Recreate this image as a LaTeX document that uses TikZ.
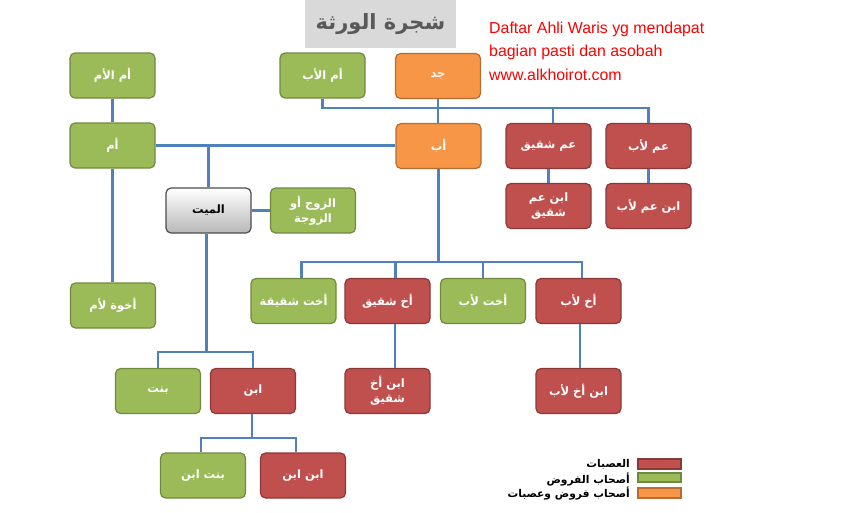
\documentclass[tikz,border=0pt]{standalone}
\usepackage{fontspec}
\setmainfont{Liberation Sans}
\newfontfamily\arabicfont[Script=Arabic]{DejaVu Sans}
\TeXXeTstate=1
\newcommand{\artxt}[1]{\beginR #1\endR}
\definecolor{mygreen}{HTML}{9BBB59}
\definecolor{mygreenb}{HTML}{71893F}
\definecolor{myred}{HTML}{C0504D}
\definecolor{myredb}{HTML}{8C3836}
\definecolor{myorange}{HTML}{F79646}
\definecolor{myorangeb}{HTML}{B66D31}
\definecolor{myblue}{HTML}{4F81BD}
\definecolor{titlegray}{HTML}{D9D9D9}
\definecolor{titletext}{HTML}{595959}
\tikzset{
  box/.style={rectangle, rounded corners=5pt, minimum width=85pt, minimum height=45pt,
    line width=1.2pt, inner sep=1pt, align=center, text=white,
    font=\arabicfont\bfseries\fontsize{11.5}{15}\selectfont},
  gbox/.style={box, fill=mygreen, draw=mygreenb},
  rbox/.style={box, fill=myred, draw=myredb},
  obox/.style={box, fill=myorange, draw=myorangeb},
  deadbox/.style={box, top color=white, bottom color=black!28, draw=black!70, text=black},
  link/.style={draw=myblue, line width=2.4pt},
  swatch/.style={line width=1.2pt},
  legtext/.style={anchor=east, inner sep=0pt, font=\arabicfont\bfseries\fontsize{10.7}{12}\selectfont},
  redtext/.style={anchor=base west, inner sep=0pt, text=red, font=\fontsize{15.9}{18}\selectfont},
}
\begin{document}
\begin{tikzpicture}[x=1pt,y=-1pt]
\useasboundingbox (0,0) rectangle (862,512);
% title
\node[fill=titlegray, minimum width=151pt, minimum height=48pt, inner sep=0pt,
  text=titletext, font=\arabicfont\bfseries\fontsize{21}{24}\selectfont] (title) at (380.5,24) {\artxt{شجرة الورثة}};
\node[redtext] (r1) at (489,33) {Daftar Ahli Waris yg mendapat};
\node[redtext] (r2) at (489,56.5) {bagian pasti dan asobah};
\node[redtext] (r3) at (489,80) {www.alkhoirot.com};

% nodes
\node[gbox] (ummumm) at (112.5,75.5) {\artxt{أم الأم}};
\node[gbox] (ummab) at (322.5,75.5) {\artxt{أم الأب}};
\node[obox] (jadd) at (438,76) {\artxt{جد}};
\node[gbox] (umm) at (112.5,145.5) {\artxt{أم}};
\node[obox] (ab) at (438.5,146) {\artxt{أب}};
\node[rbox] (ammsh) at (548.5,146) {\artxt{عم شقيق}};
\node[rbox] (ammab) at (648.5,146) {\artxt{عم لأب}};
\node[rbox] (ibnammsh) at (548.5,206) {\artxt{ابن عم}\\\artxt{شقيق}};
\node[rbox] (ibnammab) at (648.5,206) {\artxt{ابن عم لأب}};
\node[deadbox] (mayyit) at (208.5,210.5) {\artxt{الميت}};
\node[gbox] (zawj) at (313,210.5) {\artxt{الزوج أو}\\\artxt{الزوجة}};
\node[gbox] (akhwaumm) at (113,305.5) {\artxt{أخوة لأم}};
\node[gbox] (ukhtsh) at (293.5,301) {\artxt{أخت شقيقة}};
\node[rbox] (akhsh) at (387.5,301) {\artxt{أخ شقيق}};
\node[gbox] (ukhtab) at (483,301) {\artxt{أخت لأب}};
\node[rbox] (akhab) at (578.5,301) {\artxt{أخ لأب}};
\node[rbox] (ibnakhsh) at (387.5,391) {\artxt{ابن أخ}\\\artxt{شقيق}};
\node[rbox] (ibnakhab) at (578.5,391) {\artxt{ابن أخ لأب}};
\node[gbox] (bint) at (158,391) {\artxt{بنت}};
\node[rbox] (ibn) at (253,391) {\artxt{ابن}};
\node[gbox] (bintibn) at (203,475.5) {\artxt{بنت ابن}};
\node[rbox] (ibnibn) at (303,475.5) {\artxt{ابن ابن}};

% bars
\coordinate (topbar) at (0,108);
\coordinate (midbar) at (0,262);
\coordinate (mbar) at (0,352);
\coordinate (ibar) at (0,438);

% connectors
\draw[link] (ummumm.south) -- (umm.north);
\draw[link] (umm.south) -- (umm.south |- akhwaumm.north);
\draw[link] (umm.east) -- (umm.east -| ab.west);
\draw[link] (mayyit.north) -- (mayyit.north |- umm.east);
\draw[link] (ummab.south) -- (ummab.south |- topbar) -- (topbar -| ammab.north) -- (ammab.north);
\draw[link] ([xshift=4.5pt]ammsh.north) -- ([xshift=4.5pt]ammsh.north |- topbar);
\draw[link] (jadd.south) -- (jadd.south |- ab.north);
\draw[link] (ammsh.south) -- (ibnammsh.north);
\draw[link] (ammab.south) -- (ibnammab.north);
\draw[link] (ab.south) -- (ab.south |- midbar);
\draw[link] ([xshift=8pt]ukhtsh.north) -- ([xshift=8pt]ukhtsh.north |- midbar) -- ([xshift=3.5pt]akhab.north |- midbar) -- ([xshift=3.5pt]akhab.north);
\draw[link] ([xshift=8pt]akhsh.north) -- ([xshift=8pt]akhsh.north |- midbar);
\draw[link] (ukhtab.north) -- (ukhtab.north |- midbar);
\draw[link] ([xshift=7.5pt]akhsh.south) -- ([xshift=7.5pt]ibnakhsh.north);
\draw[link] ([xshift=1.5pt]akhab.south) -- ([xshift=1.5pt]ibnakhab.north);
\draw[link] (mayyit.east) -- (zawj.west);
\draw[link] ([xshift=-2pt]mayyit.south) -- ([xshift=-2pt]mayyit.south |- mbar);
\draw[link] (bint.north) -- (bint.north |- mbar) -- (mbar -| ibn.north) -- (ibn.north);
\draw[link] ([xshift=-1pt]ibn.south) -- ([xshift=-1pt]ibn.south |- ibar);
\draw[link] ([xshift=-2pt]bintibn.north) -- ([xshift=-2pt]bintibn.north |- ibar) -- ([xshift=-7pt]ibnibn.north |- ibar) -- ([xshift=-7pt]ibnibn.north);

% legend
\node[swatch, fill=myred, draw=myredb, minimum width=43pt, minimum height=10pt, inner sep=0pt] (lr) at (659.5,464) {};
\node[swatch, fill=mygreen, draw=mygreenb, minimum width=43pt, minimum height=9pt, inner sep=0pt] (lg) at (659.5,477.5) {};
\node[swatch, fill=myorange, draw=myorangeb, minimum width=43pt, minimum height=10pt, inner sep=0pt] (lo) at (659.5,493) {};
\node[legtext] (tr) at (630,464) {\artxt{العصبات}};
\node[legtext] (tg) at (630,479) {\artxt{أصحاب الفروض}};
\node[legtext] (to) at (630,493.5) {\artxt{أصحاب فروض وعصبات}};
\end{tikzpicture}
\end{document}
